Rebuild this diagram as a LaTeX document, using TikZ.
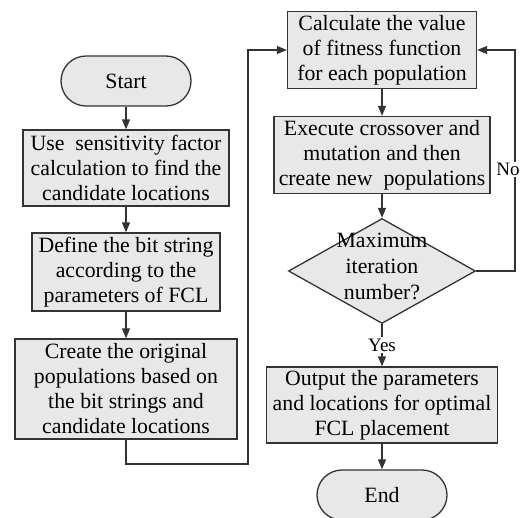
\documentclass[tikz,border=0pt]{standalone}
\usepackage{fontspec}
\setmainfont{Liberation Serif}
\usetikzlibrary{shapes,arrows.meta,positioning,calc}

\tikzset{
  block/.style={draw=black!80, fill=black!9, line width=1.3pt, inner sep=0pt,
    align=center, font=\fontsize{21.8}{25}\selectfont},
  term/.style={block, rounded corners=25pt, minimum width=130pt, minimum height=50pt},
  decision/.style={diamond, draw=black!80, fill=black!9, line width=1.3pt,
    inner sep=0pt, minimum width=187pt, minimum height=105pt},
  flow/.style={draw=black!80, line width=1.3pt, -{Triangle[length=10pt,width=8pt]}},
  tag/.style={fill=white, inner sep=1.5pt, font=\fontsize{19}{20}\selectfont}
}

\begin{document}
\begin{tikzpicture}[x=1pt,y=-1pt]
  \useasboundingbox (0,0) rectangle (524,517);
  %left column
  \node[term] (start) at (126,81) {Start};
  \node[block, minimum width=206pt, minimum height=76pt] (sens) at (126,168)
    {Use \ sensitivity factor\\calculation to find the\\candidate locations};
  \node[block, minimum width=188pt, minimum height=78pt] (bits) at (126,272)
    {Define the bit string\\according to the\\parameters of FCL};
  \node[block, minimum width=222pt, minimum height=100pt] (create) at (126,389)
    {Create the original\\populations based on\\the bit strings and\\candidate locations};
  %right column
  \node[block, minimum width=189pt, minimum height=77pt] (calc) at (382,50)
    {Calculate the value\\of fitness function\\for each population};
  \node[block, minimum width=216pt, minimum height=77pt] (exec) at (382,155)
    {Execute crossover and\\mutation and then\\create new \ populations};
  \node[decision] (dec) at (382,271) {};
  \node[align=center, inner sep=0pt, font=\fontsize{21.8}{26}\selectfont] (dectext) at (382,266)
    {Maximum\\iteration\\number?};
  \node[block, minimum width=231pt, minimum height=76pt] (out) at (382,405)
    {Output the parameters\\and locations for optimal\\FCL placement};
  \node[term] (end) at (382,495) {End};

  \coordinate (lowturn) at (248,464);
  \coordinate (noturn) at (515,271);

  \draw[flow] (start) -- (sens);
  \draw[flow] (sens) -- (bits);
  \draw[flow] (bits) -- (create);
  \draw[flow] (create.south) |- (lowturn) |- (calc.west);
  \draw[flow] (calc) -- (exec);
  \draw[flow] (exec) -- (dec);
  \draw[flow] (dec.south) -- node[tag] (yes) {Yes} (out.north);
  \draw[flow] (dec.east) -- (noturn) |- node[tag, pos=0.23, xshift=-7pt] (no) {No} (calc.east);
  \draw[flow] (out) -- (end);
\end{tikzpicture}
\end{document}
